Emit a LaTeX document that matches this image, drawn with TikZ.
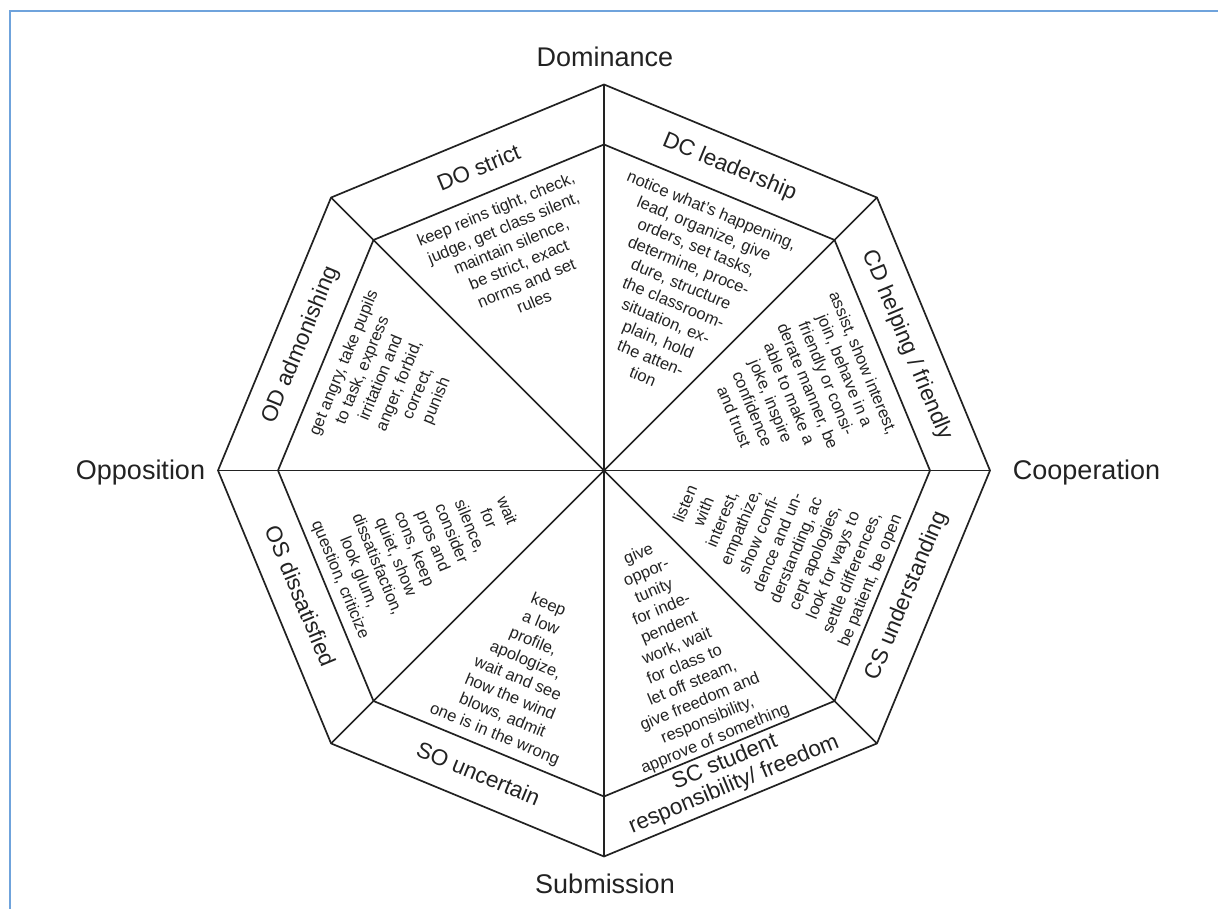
\documentclass[tikz,border=0pt]{standalone}
\usepackage{fontspec}
\setmainfont{Liberation Sans}
\usetikzlibrary{calc}
\definecolor{ink}{RGB}{34,34,34}
\definecolor{framecol}{RGB}{111,163,220}
\begin{document}
\begin{tikzpicture}[x=1pt,y=1pt,
  edge/.style={draw=ink,line width=1.7pt,line join=round},
  axislabel/.style={font=\fontsize{27}{32}\selectfont,text=ink,anchor=base,inner sep=0pt},
  bandlabel/.style={font=\fontsize{22.5}{24}\selectfont,text=ink,align=center,inner sep=0pt},
  content/.style={font=\fontsize{16.5}{20}\selectfont,text=ink,align=center,inner sep=0pt}]
\useasboundingbox (0,0) rectangle (1218,909);
\coordinate (fb) at (10,0);
\coordinate (fc) at (10,897.5);
\coordinate (fr) at (1218,897.5);
\draw[framecol,line width=2pt] (fb) -- (fc) -- (fr);
\coordinate (C) at (604,438.5);
\foreach \i in {0,...,7} {
  \path (C) ++(\i*45:386) coordinate (o\i);
  \path (C) ++(\i*45:326) coordinate (n\i);
}
\draw[edge] (o0)--(o1)--(o2)--(o3)--(o4)--(o5)--(o6)--(o7)--cycle;
\draw[edge] (n0)--(n1)--(n2)--(n3)--(n4)--(n5)--(n6)--(n7)--cycle;
\foreach \i in {0,...,7} \draw[edge] (C) -- (o\i);
% axis labels
\node[axislabel] (dom) at (605,842) {Dominance};
\node[axislabel] (sub) at (605,15) {Submission};
\node[axislabel] (opp) at (140.5,429) {Opposition};
\node[axislabel] (coo) at (1086.5,429) {Cooperation};
% band labels
\node[bandlabel,rotate=22.5] (bDO) at ($(C)+(112.5:328)$) {DO strict};
\node[bandlabel,rotate=-22.5] (bDC) at ($(C)+(67.5:328)$) {DC leadership};
\node[bandlabel,rotate=-67.5] (bCD) at ($(C)+(22.5:328)$) {CD helping / friendly};
\node[bandlabel,rotate=67.5] (bCS) at ($(C)+(-22.5:328)$) {CS understanding};
\node[bandlabel,rotate=22.5] (bSC) at ($(C)+(-67.5:328)$) {SC student\\responsibility/ freedom};
\node[bandlabel,rotate=-22.5] (bSO) at ($(C)+(-112.5:328)$) {SO uncertain};
\node[bandlabel,rotate=-67.5] (bOS) at ($(C)+(-157.5:328)$) {OS dissatisfied};
\node[bandlabel,rotate=67.5] (bOD) at ($(C)+(157.5:328)$) {OD admonishing};
% contents
\node[content,rotate=22.5] (tDO) at ($(C)+(112.5:233)$) {keep reins tight, check,\\judge, get class silent,\\maintain silence,\\be strict, exact\\norms and set\\rules};
\node[content,rotate=-22.5] (tDC) at ($(C)+(67.5:192)$) {notice what's happening,\\lead, organize, give\\orders, set tasks,\\determine, proce-\\dure, structure\\the classroom-\\situation, ex-\\plain, hold\\the atten-\\tion};
\node[content,rotate=-67.5] (tCD) at ($(C)+(22.5:211)$) {assist, show interest,\\join, behave in a\\friendly or consi-\\derate manner, be\\able to make a\\joke, inspire\\confidence\\and trust};
\node[content,rotate=67.5] (tCS) at ($(C)+(-22.5:189)$) {listen\\with\\interest,\\empathize,\\show confi-\\dence and un-\\derstanding, ac\\cept apologies,\\look for ways to\\settle differences,\\be patient, be open};
\node[content,rotate=22.5] (tSC) at ($(C)+(-67.5:191)$) {give\\oppor-\\tunity\\for inde-\\pendent\\work, wait\\for class to\\let off steam,\\give freedom and\\responsibility,\\approve of something};
\node[content,rotate=-22.5] (tSO) at ($(C)+(-112.5:216)$) {keep\\a low\\profile,\\apologize,\\wait and see\\how the wind\\blows, admit\\one is in the wrong};
\node[content,rotate=-67.5] (tOS) at ($(C)+(-157.5:196)$) {wait\\for\\silence,\\consider\\pros and\\cons, keep\\quiet, show\\dissatisfaction,\\look glum,\\question, criticize};
\node[content,rotate=67.5] (tOD) at ($(C)+(157.5:231)$) {get angry, take pupils\\to task, express\\irritation and\\anger, forbid,\\correct,\\punish};
\end{tikzpicture}
\end{document}
